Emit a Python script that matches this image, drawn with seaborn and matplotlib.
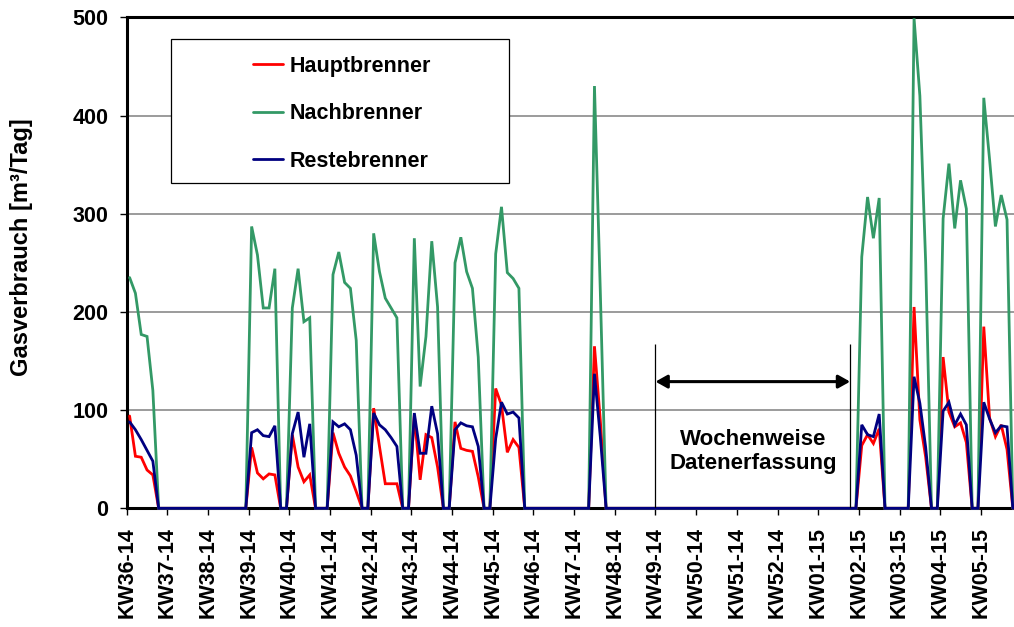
import matplotlib
matplotlib.use("Agg")
import matplotlib.pyplot as plt
import numpy as np
import pandas as pd
import seaborn as sns
from matplotlib.patches import Rectangle
from matplotlib.transforms import ScaledTranslation

# ---------------- data (daily values, one row per calendar week) ----------------
week_labels = ["KW36-14", "KW37-14", "KW38-14", "KW39-14", "KW40-14", "KW41-14",
               "KW42-14", "KW43-14", "KW44-14", "KW45-14", "KW46-14", "KW47-14",
               "KW48-14", "KW49-14", "KW50-14", "KW51-14", "KW52-14", "KW01-15",
               "KW02-15", "KW03-15", "KW04-15", "KW05-15"]

hauptbrenner = [
    94, 53, 52, 39, 34, 0, 0,        # KW36
    0, 0, 0, 0, 0, 0, 0,             # KW37
    0, 0, 0, 0, 0, 0, 0,             # KW38
    62, 36, 30, 35, 34, 0, 0,        # KW39
    75, 42, 27, 34, 0, 0, 0,         # KW40
    77, 56, 42, 33, 17, 0, 0,        # KW41
    102, 63, 25, 25, 25, 0, 0,       # KW42
    95, 29, 75, 72, 42, 0, 0,        # KW43
    88, 61, 59, 58, 32, 0, 0,        # KW44
    122, 105, 57, 70, 62, 0, 0,      # KW45
    0, 0, 0, 0, 0, 0, 0,             # KW46
    0, 0, 0, 165, 90, 0, 0,          # KW47
    0, 0, 0, 0, 0, 0, 0,             # KW48
    0, 0, 0, 0, 0, 0, 0,             # KW49
    0, 0, 0, 0, 0, 0, 0,             # KW50
    0, 0, 0, 0, 0, 0, 0,             # KW51
    0, 0, 0, 0, 0, 0, 0,             # KW52
    0, 0, 0, 0, 0, 0, 0,             # KW01
    64, 75, 66, 81, 0, 0, 0,         # KW02
    0, 0, 205, 90, 52, 0, 0,         # KW03
    154, 98, 83, 87, 67, 0, 0,       # KW04
    185, 92, 73, 85, 60, 0,          # KW05
]

nachbrenner = [
    235, 219, 177, 175, 120, 0, 0,   # KW36
    0, 0, 0, 0, 0, 0, 0,             # KW37
    0, 0, 0, 0, 0, 0, 0,             # KW38
    287, 258, 204, 204, 244, 0, 0,   # KW39
    204, 244, 190, 194, 0, 0, 0,     # KW40
    238, 261, 230, 224, 171, 0, 0,   # KW41
    280, 241, 214, 204, 194, 0, 0,   # KW42
    275, 124, 175, 272, 205, 0, 0,   # KW43
    250, 276, 241, 224, 154, 0, 0,   # KW44
    259, 307, 240, 234, 224, 0, 0,   # KW45
    0, 0, 0, 0, 0, 0, 0,             # KW46
    0, 0, 0, 430, 222, 0, 0,         # KW47
    0, 0, 0, 0, 0, 0, 0,             # KW48
    0, 0, 0, 0, 0, 0, 0,             # KW49
    0, 0, 0, 0, 0, 0, 0,             # KW50
    0, 0, 0, 0, 0, 0, 0,             # KW51
    0, 0, 0, 0, 0, 0, 0,             # KW52
    0, 0, 0, 0, 0, 0, 0,             # KW01
    256, 317, 275, 316, 0, 0, 0,     # KW02
    0, 0, 499, 420, 250, 0, 0,       # KW03
    295, 351, 285, 334, 305, 0, 0,   # KW04
    418, 355, 287, 319, 294, 0,      # KW05
]

restebrenner = [
    88, 80, 70, 59, 48, 0, 0,        # KW36
    0, 0, 0, 0, 0, 0, 0,             # KW37
    0, 0, 0, 0, 0, 0, 0,             # KW38
    77, 80, 74, 73, 84, 0, 0,        # KW39
    76, 98, 52, 86, 0, 0, 0,         # KW40
    88, 83, 86, 80, 54, 0, 0,        # KW41
    97, 85, 80, 72, 63, 0, 0,        # KW42
    97, 56, 56, 104, 76, 0, 0,       # KW43
    80, 87, 84, 83, 63, 0, 0,        # KW44
    71, 108, 96, 98, 92, 0, 0,       # KW45
    0, 0, 0, 0, 0, 0, 0,             # KW46
    0, 0, 0, 137, 73, 0, 0,          # KW47
    0, 0, 0, 0, 0, 0, 0,             # KW48
    0, 0, 0, 0, 0, 0, 0,             # KW49
    0, 0, 0, 0, 0, 0, 0,             # KW50
    0, 0, 0, 0, 0, 0, 0,             # KW51
    0, 0, 0, 0, 0, 0, 0,             # KW52
    0, 0, 0, 0, 0, 0, 0,             # KW01
    85, 75, 73, 96, 0, 0, 0,         # KW02
    0, 0, 134, 107, 62, 0, 0,        # KW03
    99, 108, 85, 96, 85, 0, 0,       # KW04
    108, 91, 77, 84, 83, 0,          # KW05
]

series_names = ["Hauptbrenner", "Nachbrenner", "Restebrenner"]
series_colors = ["#FF0000", "#339966", "#000080"]
annotation_text = "Wochenweise\nDatenerfassung"
y_label = "Gasverbrauch [m³/Tag]"

# ---------------- build table ----------------
frames = []
for name, vals in zip(series_names, [hauptbrenner, nachbrenner, restebrenner]):
    frames.append(pd.DataFrame({"Tag": np.arange(len(vals)), "Wert": vals, "Serie": name}))
df = pd.concat(frames, ignore_index=True)

# ---------------- style ----------------
sns.set_theme(style="white")
plt.rcParams["font.family"] = ["Liberation Sans", "DejaVu Sans"]
plt.rcParams["font.weight"] = "bold"
plt.rcParams["text.color"] = "black"
plt.rcParams["axes.labelcolor"] = "black"
plt.rcParams["xtick.color"] = "black"
plt.rcParams["ytick.color"] = "black"

W, H = 1014, 627
fig = plt.figure(figsize=(W / 100, H / 100), dpi=100)
fig.patch.set_facecolor("white")
x0, x1, y0, y1 = 126.7, 1014.0, 17.3, 508.3
ax = fig.add_axes([x0 / W, 1 - y1 / H, (x1 - x0) / W, (y1 - y0) / H])
ax.set_facecolor("white")

sns.lineplot(data=df, x="Tag", y="Wert", hue="Serie", hue_order=series_names,
             palette=dict(zip(series_names, series_colors)), estimator=None,
             errorbar=None, linewidth=2.0, ax=ax, legend=True)
for ln in ax.lines:
    ln.set_clip_on(False)
    ln.set_zorder(3)
    ln.set_solid_joinstyle("miter")

ax.set_xlim(-0.5, 152.2)
ax.set_ylim(0, 500)

# grid
ax.set_yticks(np.arange(0, 501, 100))
ax.yaxis.grid(True, color="#808080", linewidth=1.1)
ax.xaxis.grid(False)
ax.set_axisbelow(True)

# x ticks at week boundaries
ax.set_xticks(np.arange(len(week_labels)) * 7 - 0.5)
ax.set_xticklabels(week_labels, rotation=90, fontsize=15.5, fontweight="bold",
                   va="top", ha="center", color="black")
offset = ScaledTranslation(0.04, 0, fig.dpi_scale_trans)
for lbl in ax.get_xticklabels():
    lbl.set_transform(lbl.get_transform() + offset)
ax.tick_params(axis="x", direction="out", length=5, width=1.0, color="black",
               labelcolor="black", pad=8.6, bottom=True)
ax.tick_params(axis="y", direction="out", length=5, width=1.0, color="black",
               labelcolor="black", pad=8.3, left=True, labelsize=15.5)
for lbl in ax.get_yticklabels():
    lbl.set_fontweight("bold")

ax.set_xlabel("")
ax.set_ylabel(y_label, fontsize=17, fontweight="bold", va="center", color="black")
ax.yaxis.set_label_coords(-0.118, 0.531)

for side in ["left", "bottom", "top"]:
    ax.spines[side].set_color("black")
    ax.spines[side].set_linewidth(2.2)
ax.spines["right"].set_visible(False)

# legend (frame drawn as separate box)
handles, labels = ax.get_legend_handles_labels()
leg = ax.legend(handles, labels, loc="upper left",
                bbox_to_anchor=(253 / W, 1 - 56 / H), bbox_transform=fig.transFigure,
                frameon=False, borderpad=0, borderaxespad=0, handlelength=1.4,
                handletextpad=0.28, labelspacing=1.22,
                prop={"size": 15.5, "weight": "bold"})
leg.set_zorder(6)
for t in leg.get_texts():
    t.set_color("black")
for lh in leg.get_lines():
    lh.set_linewidth(2.0)
box = Rectangle((171 / W, 1 - 183 / H), (509 - 171) / W, (183 - 39) / H,
                transform=fig.transFigure, facecolor="white", edgecolor="black",
                linewidth=0.9, zorder=5)
ax.add_patch(box)

# annotation: weekly data acquisition
ax.vlines([90.5, 124.0], 0, 167, colors="black", linewidth=0.9, zorder=4)
ax.annotate("", xy=(124.0, 129), xytext=(90.5, 129),
            arrowprops=dict(arrowstyle="<|-|>,head_length=0.5,head_width=0.28",
                            color="black", lw=2.2, mutation_scale=14,
                            shrinkA=0, shrinkB=0), zorder=4)
ax.text(107.3, 58, annotation_text, ha="center", va="center", fontsize=16,
        fontweight="bold", linespacing=1.2, zorder=4, color="black")

fig.savefig("out.png", dpi=100, facecolor="white")
